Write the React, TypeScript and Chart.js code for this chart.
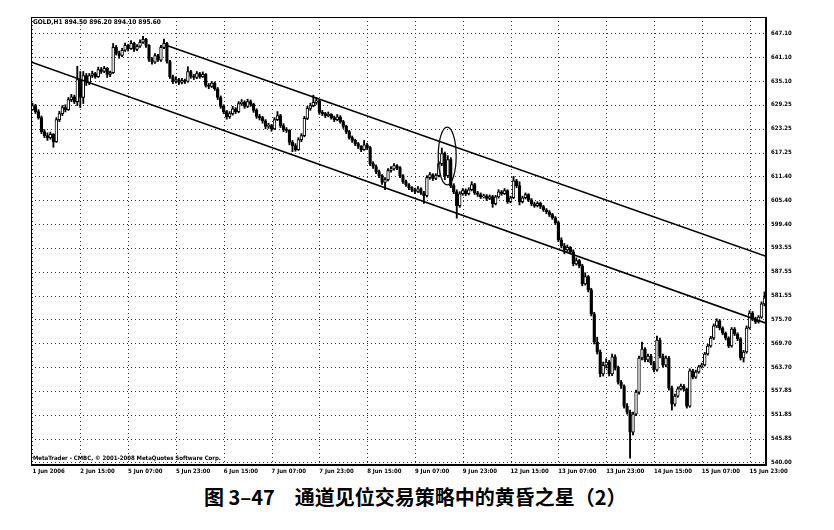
import { useEffect, useRef } from "react";
import { Chart, registerables } from "chart.js";

Chart.register(...registerables);

// hourly GOLD bars left to right
const opens = [
  628.0, 629.0, 627.5, 626.0, 622.5, 621.5, 621.0, 621.8, 620.0, 625.5,
  627.0, 628.5, 628.0, 630.5, 631.2, 630.0, 635.5, 631.0, 636.5, 634.8,
  636.5, 637.0, 636.2, 638.0, 637.5, 638.3, 636.8, 637.2, 643.5, 642.0,
  641.5, 642.8, 644.0, 643.2, 644.5, 643.0, 643.8, 644.8, 645.5, 644.0,
  640.5, 639.8, 641.5, 640.3, 643.5, 644.5, 640.0, 636.2, 635.0, 635.5,
  634.8, 635.3, 635.0, 637.5, 636.3, 636.0, 637.0, 636.2, 636.8, 634.0,
  633.8, 634.6, 633.2, 631.0, 628.8, 627.5, 626.2, 627.0, 628.2, 627.5,
  629.5, 629.8, 628.8, 630.0, 629.3, 627.8, 626.3, 626.0, 625.2, 623.8,
  624.0, 623.2, 625.5, 626.5, 624.0, 623.0, 622.8, 619.8, 619.0, 618.0,
  620.5, 621.5, 625.8, 628.3, 629.0, 629.8, 630.2, 627.3, 627.0, 626.5,
  626.8, 626.0, 625.5, 626.2, 625.0, 623.8, 622.5, 621.0, 620.3, 619.5,
  618.8, 618.0, 619.2, 618.5, 614.5, 613.8, 612.5, 611.5, 609.8, 610.5,
  612.8, 613.2, 614.0, 613.5, 611.5, 610.0, 609.2, 608.5, 608.0, 607.6,
  608.2, 607.2, 606.5, 611.0, 611.8, 610.8, 611.5, 614.5, 617.0, 611.5,
  615.5, 609.0, 607.5, 604.0, 607.0, 607.8, 607.0, 608.0, 609.3, 607.2,
  606.8, 606.2, 606.5, 605.8, 606.3, 604.5, 606.2, 607.5, 607.0, 607.8,
  605.0, 606.0, 610.2, 609.0, 605.0, 606.0, 606.8, 605.5, 604.5, 604.0,
  604.6, 603.8, 603.0, 602.5, 601.8, 601.0, 599.8, 595.5, 594.0, 593.0,
  593.6, 592.5, 589.5, 590.3, 589.0, 584.5, 586.3, 583.0, 577.0, 570.0,
  567.5, 562.0, 564.2, 565.0, 562.0, 566.3, 563.5, 560.0, 559.0, 554.0,
  552.5, 547.5, 552.0, 557.5, 566.0, 568.2, 565.5, 566.5, 564.8, 563.0,
  570.5, 566.5, 564.2, 566.0, 558.5, 554.5, 556.5, 558.3, 559.0, 558.2,
  554.0, 562.8, 561.2, 562.5, 563.8, 564.3, 567.0, 569.0, 571.0, 574.0,
  575.3, 573.5, 572.2, 571.0, 569.0, 573.2, 572.0, 570.8, 566.0, 567.5,
  573.5, 577.2, 575.8, 575.0, 576.2, 579.5,
];
const highs = [
  629.6, 629.3, 628.0, 626.4, 623.0, 622.2, 622.4, 622.0, 626.0, 627.6,
  629.0, 629.2, 631.0, 631.8, 631.6, 638.8, 637.5, 637.5, 637.0, 637.0,
  637.6, 637.3, 638.6, 638.5, 638.8, 638.5, 637.6, 644.5, 644.0, 642.6,
  643.3, 644.6, 644.3, 645.2, 644.8, 644.2, 645.4, 646.3, 645.8, 644.2,
  641.0, 642.0, 641.8, 644.0, 645.6, 644.8, 640.3, 636.6, 636.2, 635.8,
  635.8, 635.6, 638.7, 637.8, 636.8, 637.5, 637.3, 637.4, 637.0, 634.5,
  635.0, 634.9, 633.5, 631.4, 629.2, 627.8, 627.5, 628.8, 628.5, 630.0,
  630.5, 630.2, 630.6, 630.4, 629.6, 628.2, 626.8, 626.3, 625.5, 624.6,
  624.3, 626.0, 627.5, 626.8, 624.5, 623.5, 623.0, 620.3, 619.5, 621.0,
  622.0, 626.3, 628.8, 629.6, 631.6, 631.0, 630.5, 627.8, 627.3, 627.4,
  627.0, 626.4, 626.8, 626.5, 625.3, 624.1, 622.8, 621.4, 620.6, 619.8,
  619.0, 620.3, 619.6, 618.8, 615.0, 614.2, 612.9, 611.8, 611.0, 613.3,
  613.8, 614.5, 614.3, 613.8, 611.8, 610.4, 609.5, 608.8, 608.4, 608.8,
  608.5, 607.6, 611.5, 612.3, 612.0, 612.0, 615.0, 618.4, 617.4, 616.5,
  616.0, 609.5, 608.0, 607.5, 608.3, 608.2, 608.5, 610.0, 609.6, 607.6,
  607.2, 606.9, 606.8, 606.7, 606.6, 606.6, 608.0, 607.8, 608.3, 608.0,
  606.4, 611.3, 610.6, 610.0, 606.4, 607.2, 607.0, 605.8, 604.9, 605.0,
  604.9, 604.1, 603.3, 602.8, 602.1, 601.3, 600.2, 596.0, 594.6, 594.2,
  593.8, 593.0, 591.0, 590.6, 589.4, 587.3, 586.6, 583.4, 577.4, 571.2,
  568.0, 565.0, 565.8, 565.4, 567.0, 566.8, 564.0, 560.4, 559.3, 554.6,
  553.0, 552.5, 558.0, 566.5, 570.0, 568.6, 567.0, 566.9, 565.2, 571.5,
  571.0, 567.0, 566.5, 566.4, 559.0, 557.0, 558.8, 559.5, 559.4, 558.5,
  563.3, 563.2, 563.0, 564.2, 564.7, 567.4, 569.4, 571.4, 574.5, 575.8,
  575.6, 573.8, 572.5, 571.3, 573.6, 573.6, 572.3, 571.1, 567.9, 574.0,
  577.8, 577.6, 576.2, 576.6, 580.0, 582.5,
];
const lows = [
  627.8, 627.0, 625.6, 622.0, 621.0, 620.3, 620.6, 618.6, 619.8, 625.0,
  626.5, 627.4, 627.8, 630.0, 629.5, 629.0, 628.5, 629.5, 634.0, 634.2,
  636.0, 635.8, 636.0, 637.0, 637.2, 636.0, 636.2, 637.0, 641.6, 640.8,
  641.2, 642.5, 642.6, 643.0, 642.5, 642.7, 643.5, 644.5, 643.5, 640.0,
  639.3, 639.5, 640.0, 640.0, 643.2, 639.6, 635.8, 634.5, 634.6, 634.2,
  634.4, 634.5, 634.8, 635.8, 635.5, 635.7, 635.8, 636.0, 633.6, 633.2,
  633.5, 632.8, 630.5, 628.3, 627.0, 625.6, 625.8, 626.6, 627.0, 627.2,
  629.0, 628.3, 628.5, 628.8, 627.3, 625.8, 625.4, 624.6, 623.2, 623.3,
  622.6, 623.0, 625.2, 623.5, 622.5, 622.3, 619.2, 617.5, 617.6, 617.8,
  620.0, 621.2, 625.5, 627.8, 628.7, 629.3, 626.8, 626.5, 626.0, 626.2,
  625.6, 625.0, 625.2, 624.6, 623.3, 622.0, 620.6, 619.8, 619.0, 618.3,
  617.5, 617.8, 618.0, 614.0, 613.3, 612.0, 611.0, 609.3, 608.0, 610.2,
  612.4, 612.9, 613.0, 611.0, 609.6, 608.8, 608.0, 607.5, 607.0, 607.3,
  606.8, 604.6, 606.2, 610.6, 610.3, 610.5, 611.2, 614.0, 610.5, 611.0,
  608.5, 607.0, 600.9, 603.6, 606.6, 606.5, 606.7, 607.7, 606.8, 606.3,
  605.8, 605.9, 605.3, 605.5, 603.6, 604.2, 605.9, 606.6, 606.8, 604.6,
  604.7, 605.8, 608.5, 604.2, 604.7, 605.7, 605.0, 604.0, 603.6, 603.7,
  603.3, 602.6, 602.0, 601.3, 600.6, 599.3, 595.0, 593.5, 592.0, 592.6,
  592.0, 589.0, 589.2, 588.5, 584.0, 584.2, 582.5, 576.5, 569.5, 567.0,
  561.3, 561.5, 563.5, 561.5, 561.6, 563.0, 559.5, 558.4, 553.5, 552.0,
  541.0, 546.8, 551.6, 557.0, 565.5, 565.0, 565.0, 564.3, 562.5, 562.7,
  566.0, 563.7, 563.8, 558.0, 553.0, 554.0, 556.2, 558.0, 557.8, 553.5,
  553.7, 560.8, 560.9, 562.2, 563.5, 564.0, 566.7, 568.7, 570.6, 573.6,
  573.0, 571.8, 570.5, 568.6, 568.7, 571.6, 570.3, 565.5, 565.0, 567.2,
  573.2, 575.3, 574.6, 574.7, 575.9, 579.0,
];
const closes = [
  629.0, 627.5, 626.0, 622.5, 621.5, 621.0, 621.8, 620.0, 625.5, 627.0,
  628.5, 628.0, 630.5, 631.2, 630.0, 635.5, 631.0, 636.5, 634.8, 636.5,
  637.0, 636.2, 638.0, 637.5, 638.3, 636.8, 637.2, 643.5, 642.0, 641.5,
  642.8, 644.0, 643.2, 644.5, 643.0, 643.8, 644.8, 645.5, 644.0, 640.5,
  639.8, 641.5, 640.3, 643.5, 644.5, 640.0, 636.2, 635.0, 635.5, 634.8,
  635.3, 635.0, 637.5, 636.3, 636.0, 637.0, 636.2, 636.8, 634.0, 633.8,
  634.6, 633.2, 631.0, 628.8, 627.5, 626.2, 627.0, 628.2, 627.5, 629.5,
  629.8, 628.8, 630.0, 629.3, 627.8, 626.3, 626.0, 625.2, 623.8, 624.0,
  623.2, 625.5, 626.5, 624.0, 623.0, 622.8, 619.8, 619.0, 618.0, 620.5,
  621.5, 625.8, 628.3, 629.0, 629.8, 630.2, 627.3, 627.0, 626.5, 626.8,
  626.0, 625.5, 626.2, 625.0, 623.8, 622.5, 621.0, 620.3, 619.5, 618.8,
  618.0, 619.2, 618.5, 614.5, 613.8, 612.5, 611.5, 609.8, 610.5, 612.8,
  613.2, 614.0, 613.5, 611.5, 610.0, 609.2, 608.5, 608.0, 607.6, 608.2,
  607.2, 606.5, 611.0, 611.8, 610.8, 611.5, 614.5, 617.0, 611.5, 615.5,
  609.0, 607.5, 604.0, 607.0, 607.8, 607.0, 608.0, 609.3, 607.2, 606.8,
  606.2, 606.5, 605.8, 606.3, 604.5, 606.2, 607.5, 607.0, 607.8, 605.0,
  606.0, 610.2, 609.0, 605.0, 606.0, 606.8, 605.5, 604.5, 604.0, 604.6,
  603.8, 603.0, 602.5, 601.8, 601.0, 599.8, 595.5, 594.0, 593.0, 593.6,
  592.5, 589.5, 590.3, 589.0, 584.5, 586.3, 583.0, 577.0, 570.0, 567.5,
  562.0, 564.2, 565.0, 562.0, 566.3, 563.5, 560.0, 559.0, 554.0, 552.5,
  547.5, 552.0, 557.5, 566.0, 568.2, 565.5, 566.5, 564.8, 563.0, 570.5,
  566.5, 564.2, 566.0, 558.5, 554.5, 556.5, 558.3, 559.0, 558.2, 554.0,
  562.8, 561.2, 562.5, 563.8, 564.3, 567.0, 569.0, 571.0, 574.0, 575.3,
  573.5, 572.2, 571.0, 569.0, 573.2, 572.0, 570.8, 566.0, 567.5, 573.5,
  577.2, 575.8, 575.0, 576.2, 579.5, 581.0,
];

const xTickLabels = [
  "1 Jun 2006", "2 Jun 15:00", "5 Jun 07:00", "5 Jun 23:00", "6 Jun 15:00",
  "7 Jun 07:00", "7 Jun 23:00", "8 Jun 15:00", "9 Jun 07:00", "9 Jun 23:00",
  "12 Jun 15:00", "13 Jun 07:00", "13 Jun 23:00", "14 Jun 15:00",
  "15 Jun 07:00", "15 Jun 23:00",
];
const barsPerTick = 16;
const yTickValues = [
  647.1, 641.1, 635.1, 629.25, 623.25, 617.25, 611.4, 605.4, 599.4, 593.55,
  587.55, 581.55, 575.7, 569.7, 563.7, 557.85, 551.85, 545.85, 540.0,
];

// channel drawn on the chart (bar index, price)
const upperChannel = [
  { x: 44.5, y: 644.1 },
  { x: 245.5, y: 591.4 },
];
const lowerChannel = [
  { x: -0.5, y: 639.9 },
  { x: 245.5, y: 574.7 },
];
// circled evening star
const starMark = { x: 138.8, y: 616.4, halfBars: 3, halfPrice: 7.2 };

const headerText = "GOLD,H1 894.50 896.20 894.10 895.60";
const footerText = "MetaTrader - CMBC, © 2001-2008 MetaQuotes Software Corp.";
const captionText = "图 3–47\u3000通道见位交易策略中的黄昏之星（2）";

const smallFont = "'DejaVu Sans Condensed', 'DejaVu Sans', sans-serif";

// dotted MT4-style grid, drawn at the scales' tick positions
const dottedGrid = {
  id: "dottedGrid",
  beforeDatasetsDraw(chart: Chart) {
    const { ctx, chartArea } = chart;
    const xs = chart.scales.x;
    const ys = chart.scales.y;
    ctx.save();
    ctx.strokeStyle = "#333";
    ctx.lineWidth = 1;
    ctx.setLineDash([1, 3]);
    ctx.beginPath();
    xs.ticks.forEach((t) => {
      const px = Math.round(xs.getPixelForValue(t.value)) + 0.5;
      ctx.moveTo(px, chartArea.top);
      ctx.lineTo(px, chartArea.bottom);
    });
    ys.ticks.forEach((t) => {
      const py = Math.round(ys.getPixelForValue(t.value)) + 0.5;
      ctx.moveTo(chartArea.left, py);
      ctx.lineTo(chartArea.right, py);
    });
    ctx.stroke();
    ctx.restore();
  },
};

const chartDecor = {
  id: "chartDecor",
  afterDatasetsDraw(chart: Chart) {
    const { ctx, chartArea } = chart;
    const xs = chart.scales.x;
    const ys = chart.scales.y;
    // ellipse around the star
    const cx = xs.getPixelForValue(starMark.x);
    const cy = ys.getPixelForValue(starMark.y);
    const rx = xs.getPixelForValue(starMark.x + starMark.halfBars) - cx;
    const ry = cy - ys.getPixelForValue(starMark.y + starMark.halfPrice);
    ctx.save();
    ctx.strokeStyle = "#111";
    ctx.lineWidth = 1.3;
    ctx.beginPath();
    ctx.ellipse(cx, cy, rx, ry, 0, 0, Math.PI * 2);
    ctx.stroke();

    // frame
    ctx.lineWidth = 1;
    ctx.strokeStyle = "#000";
    ctx.strokeRect(chartArea.left + 0.5, chartArea.top + 0.5, chartArea.width, chartArea.height);
    ctx.lineWidth = 2;
    ctx.beginPath();
    ctx.moveTo(chartArea.left, chartArea.bottom);
    ctx.lineTo(chartArea.right, chartArea.bottom);
    ctx.lineTo(chartArea.right, chartArea.top);
    ctx.stroke();

    ctx.fillStyle = "#000";
    ctx.textBaseline = "alphabetic";
    ctx.textAlign = "left";
    ctx.font = `bold 6.5px ${smallFont}`;
    ctx.fillText(headerText, chartArea.left + 2, chartArea.top + 7);
    ctx.font = `bold 6px ${smallFont}`;
    ctx.fillText(footerText, chartArea.left + 2, chartArea.bottom - 5);
    ctx.restore();
  },
};

export default function App() {
  const canvasRef = useRef<HTMLCanvasElement>(null);
  const chartRef = useRef<Chart | null>(null);

  useEffect(() => {
    if (!canvasRef.current) return;
    const ctx = canvasRef.current.getContext("2d");
    if (!ctx) return;

    if (chartRef.current) {
      chartRef.current.destroy();
      chartRef.current = null;
    }

    const bodies = opens.map((o, i) => ({ x: i, y: [o, closes[i]] }));
    const wicks = lows.map((l, i) => ({ x: i, y: [l, highs[i]] }));
    const bodyFill = opens.map((o, i) => (closes[i] >= o ? "#ffffff" : "#000000"));

    chartRef.current = new Chart(ctx, {
      type: "bar",
      data: {
        datasets: [
          {
            type: "line",
            data: upperChannel,
            borderColor: "#000",
            borderWidth: 1.6,
            pointRadius: 0,
            order: 0,
          },
          {
            type: "line",
            data: lowerChannel,
            borderColor: "#000",
            borderWidth: 1.6,
            pointRadius: 0,
            order: 0,
          },
          {
            type: "bar",
            data: bodies as any,
            backgroundColor: bodyFill,
            borderColor: "#000",
            borderWidth: 1,
            borderSkipped: false,
            barThickness: 2.8,
            minBarLength: 1,
            grouped: false,
            order: 1,
          },
          {
            type: "bar",
            data: wicks as any,
            backgroundColor: "#000",
            borderWidth: 0,
            barThickness: 1.2,
            grouped: false,
            order: 2,
          },
        ],
      },
      options: {
        responsive: true,
        maintainAspectRatio: false,
        animation: false,
        events: [],
        layout: { padding: { left: 31, top: 17, right: 0, bottom: 0 } },
        plugins: {
          legend: { display: false },
          tooltip: { enabled: false },
        },
        scales: {
          x: {
            type: "linear",
            min: -0.5,
            max: 245.5,
            offset: false,
            grid: { display: false, drawTicks: false },
            border: { display: false },
            afterBuildTicks: (scale: any) => {
              scale.ticks = xTickLabels.map((_, k) => ({ value: k * barsPerTick }));
            },
            afterFit: (scale: any) => {
              scale.height = 15;
            },
            ticks: {
              autoSkip: false,
              maxRotation: 0,
              align: "start",
              padding: 3,
              color: "#000",
              font: { family: smallFont, size: 6, weight: "bold" },
              callback: (v: any) => xTickLabels[Math.round(Number(v) / barsPerTick)] ?? "",
            },
          },
          y: {
            type: "linear",
            position: "right",
            min: 539.3,
            max: 651.1,
            grid: { display: false, drawTicks: false },
            border: { display: false },
            afterBuildTicks: (scale: any) => {
              scale.ticks = yTickValues.map((v) => ({ value: v }));
            },
            afterFit: (scale: any) => {
              scale.width = 68;
            },
            ticks: {
              padding: 5,
              color: "#000",
              font: { family: smallFont, size: 6, weight: "bold" },
              callback: (v: any) => Number(v).toFixed(2),
            },
          },
        },
      },
      plugins: [dottedGrid, chartDecor],
    } as any);

    return () => {
      if (chartRef.current) {
        chartRef.current.destroy();
        chartRef.current = null;
      }
    };
  }, []);

  return (
    <div
      style={{
        position: "absolute",
        left: 0,
        top: 0,
        width: 834,
        height: 530,
        background: "#fff",
        overflow: "hidden",
      }}
    >
      <div style={{ position: "relative", width: 834, height: 480 }}>
        <canvas ref={canvasRef}></canvas>
      </div>
      <div
        style={{
          position: "absolute",
          left: 204,
          top: 487,
          fontFamily: "'Noto Sans CJK SC', sans-serif",
          fontWeight: 700,
          fontSize: 20,
          lineHeight: "20px",
          color: "#000",
          whiteSpace: "pre",
        }}
      >
        {captionText}
      </div>
    </div>
  );
}
